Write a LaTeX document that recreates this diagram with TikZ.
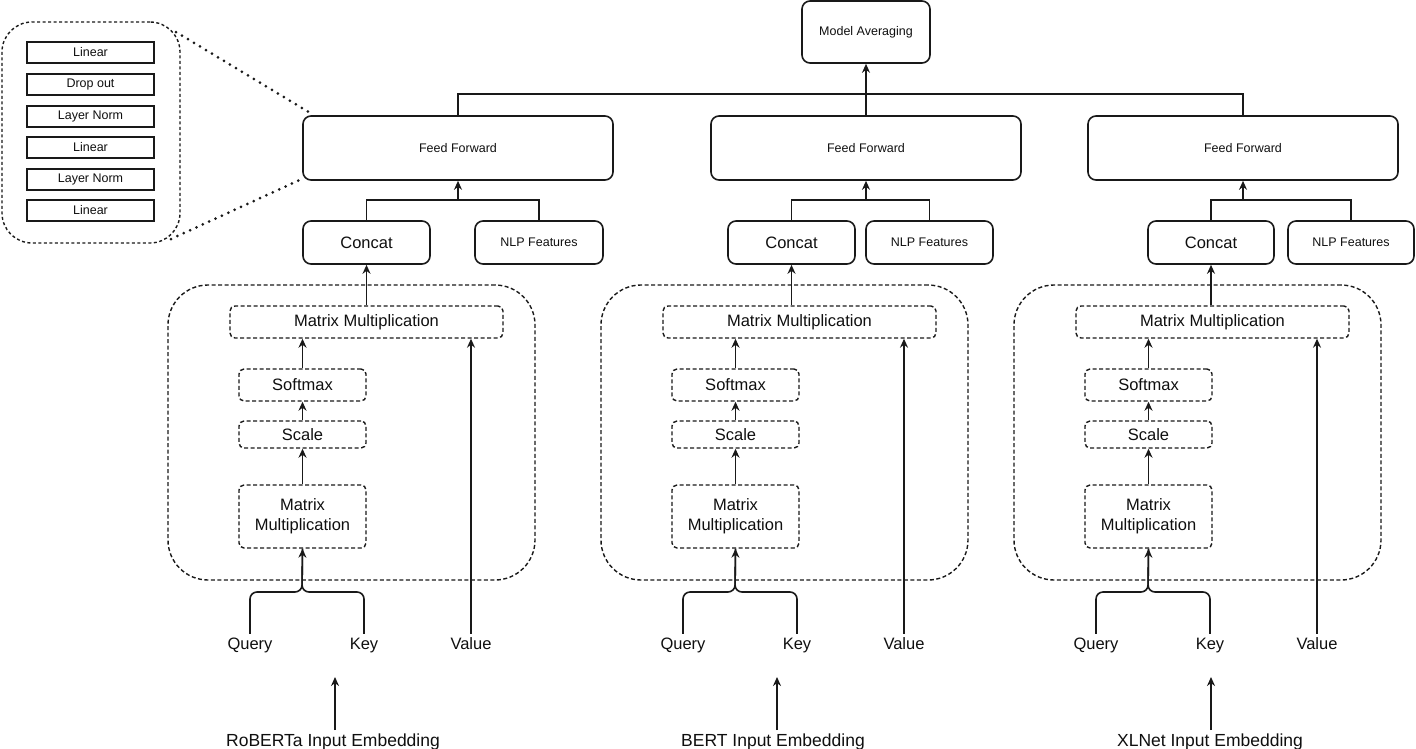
\documentclass[tikz,border=0pt]{standalone}
\usepackage{fontspec}
\setmainfont{Liberation Sans}
\usetikzlibrary{arrows.meta}
\definecolor{ln}{RGB}{25,25,25}
\definecolor{tx}{RGB}{15,15,15}
\begin{document}
\begin{tikzpicture}[x=1pt,y=-1pt,
  wire/.style={draw=ln,line width=1.6pt},
  arr/.style={wire,-{Stealth[length=9pt,width=8pt]}},
  small/.style={font=\fontsize{12.5}{15}\selectfont,text=tx},
  big/.style={font=\fontsize{16.5}{20}\selectfont,text=tx},
  sbox/.style={draw=ln,line width=1.6pt,rounded corners=8pt,inner sep=0pt,align=center},
  rbox/.style={draw=ln,line width=1.6pt,inner sep=0pt,small},
  dbox/.style={draw=ln,line width=1.4pt,dash pattern=on 4pt off 2.5pt,rounded corners=5pt,inner sep=0pt,align=center,big},
  bigdash/.style={draw=ln,line width=1.4pt,dash pattern=on 4pt off 2.5pt,rounded corners=40pt,inner sep=0pt},
  lbl/.style={big,anchor=base,text height=12pt,text depth=4pt,inner sep=3pt},
  emb/.style={font=\fontsize{17.5}{20}\selectfont,text=tx,anchor=base,inner sep=3pt},
  dots/.style={draw=ln,line width=3pt,dash pattern=on 0pt off 7pt,line cap=round}
]
\useasboundingbox (0,0) rectangle (1416,748);

% ---------- inset ----------
\node[draw=ln,line width=1.4pt,dash pattern=on 3pt off 2.5pt,rounded corners=30pt,
      minimum width=178pt,minimum height=221pt,inner sep=0pt] (inset) at (91,132.5) {};
\node[rbox,minimum width=127pt,minimum height=21pt] (i1) at (90.5,52.5) {Linear};
\node[rbox,minimum width=127pt,minimum height=21pt] (i2) at (90.5,84.5) {Drop out};
\node[rbox,minimum width=127pt,minimum height=21pt] (i3) at (90.5,116.5) {Layer Norm};
\node[rbox,minimum width=127pt,minimum height=21pt] (i4) at (90.5,147.5) {Linear};
\node[rbox,minimum width=127pt,minimum height=21pt] (i5) at (90.5,179.5) {Layer Norm};
\node[rbox,minimum width=127pt,minimum height=21pt] (i6) at (90.5,210.5) {Linear};

% ---------- top ----------
\node[sbox,small,minimum width=128pt,minimum height=62pt] (ma) at (866,32) {Model Averaging};

\node[sbox,small,minimum width=310pt,minimum height=64pt] (ff1) at (458,148) {Feed Forward};
\node[sbox,small,minimum width=310pt,minimum height=64pt] (ff2) at (866,148) {Feed Forward};
\node[sbox,small,minimum width=310pt,minimum height=64pt] (ff3) at (1243,148) {Feed Forward};

\node[sbox,big,minimum width=127pt,minimum height=43pt] (c1) at (366.5,242.5) {Concat};
\node[sbox,small,minimum width=128pt,minimum height=43pt] (n1) at (539,242.5) {NLP Features};
\node[sbox,big,minimum width=127pt,minimum height=43pt] (c2) at (791.5,242.5) {Concat};
\node[sbox,small,minimum width=127pt,minimum height=43pt] (n2) at (929.5,242.5) {NLP Features};
\node[sbox,big,minimum width=126pt,minimum height=43pt] (c3) at (1211,242.5) {Concat};
\node[sbox,small,minimum width=126pt,minimum height=43pt] (n3) at (1351,242.5) {NLP Features};

% inset zoom lines
\coordinate (it) at (176,32);
\coordinate (ib) at (171,239);
\coordinate (ft) at (312,114);
\coordinate (fb) at (304,178);
\draw[dots] (it) -- (ft);
\draw[dots] (ib) -- (fb);

% top wiring
\draw[wire] (ff1.north) -- ++(0,-21) -| (ff3.north);
\draw[arr] (ff2.north) -- (ma.south);

\coordinate (m1) at (458,200);
\coordinate (m2) at (866,200);
\coordinate (m3) at (1243,200);
\draw[wire] (c1.north) |- (m1) -| (n1.north);
\draw[wire] (c2.north) |- (m2) -| (n2.north);
\draw[wire] (c3.north) |- (m3) -| (n3.north);
\draw[arr] (m1) -- (ff1.south);
\draw[arr] (m2) -- (ff2.south);
\draw[arr] (m3) -- (ff3.south);

% ---------- attention blocks ----------
\foreach \i/\d in {1/0,2/433,3/846}{
  \node[bigdash,minimum width=367pt,minimum height=295pt] (bx\i) at (351.5+\d,432.5) {};
  \node[dbox,minimum width=273pt,minimum height=32pt] (mmt\i) at (366.5+\d,322) {Matrix Multiplication};
  \node[dbox,minimum width=127pt,minimum height=32pt] (sm\i) at (302.5+\d,385) {Softmax};
  \node[dbox,minimum width=127pt,minimum height=27pt] (sc\i) at (302.5+\d,434.5) {Scale};
  \node[dbox,minimum width=127pt,minimum height=63pt] (mml\i) at (302.5+\d,516.5) {Matrix\\Multiplication};
  \draw[arr] (sm\i.north) -- (sm\i.north |- mmt\i.south);
  \draw[arr] (sc\i.north) -- (sm\i.south);
  \draw[arr] (mml\i.north) -- (sc\i.south);
  \draw[arr] (mmt\i.north -| c\i.south) -- (c\i.south);

  \node[lbl] (q\i) at (250+\d,649) {Query};
  \node[lbl] (k\i) at (364+\d,649) {Key};
  \node[lbl] (v\i) at (471+\d,649) {Value};
  \coordinate (j\i) at (302+\d,592);
  \draw[arr,rounded corners=7pt] (q\i.north) |- (j\i) -- (mml\i.south);
  \draw[wire,rounded corners=7pt] (k\i.north) |- (j\i) -- (mml\i.south);
  \draw[arr] (v\i.north) -- (v\i.north |- mmt\i.south);
}

% ---------- embeddings ----------
\node[emb] (e1) at (333,746) {RoBERTa Input Embedding};
\node[emb] (e2) at (773,746) {BERT Input Embedding};
\node[emb] (e3) at (1210,746) {XLNet Input Embedding};
\coordinate (t1) at (335,677);
\coordinate (t2) at (777,677);
\coordinate (t3) at (1211,677);
\draw[arr] (e1.north -| t1) -- (t1);
\draw[arr] (e2.north -| t2) -- (t2);
\draw[arr] (e3.north -| t3) -- (t3);
\end{tikzpicture}
\end{document}
